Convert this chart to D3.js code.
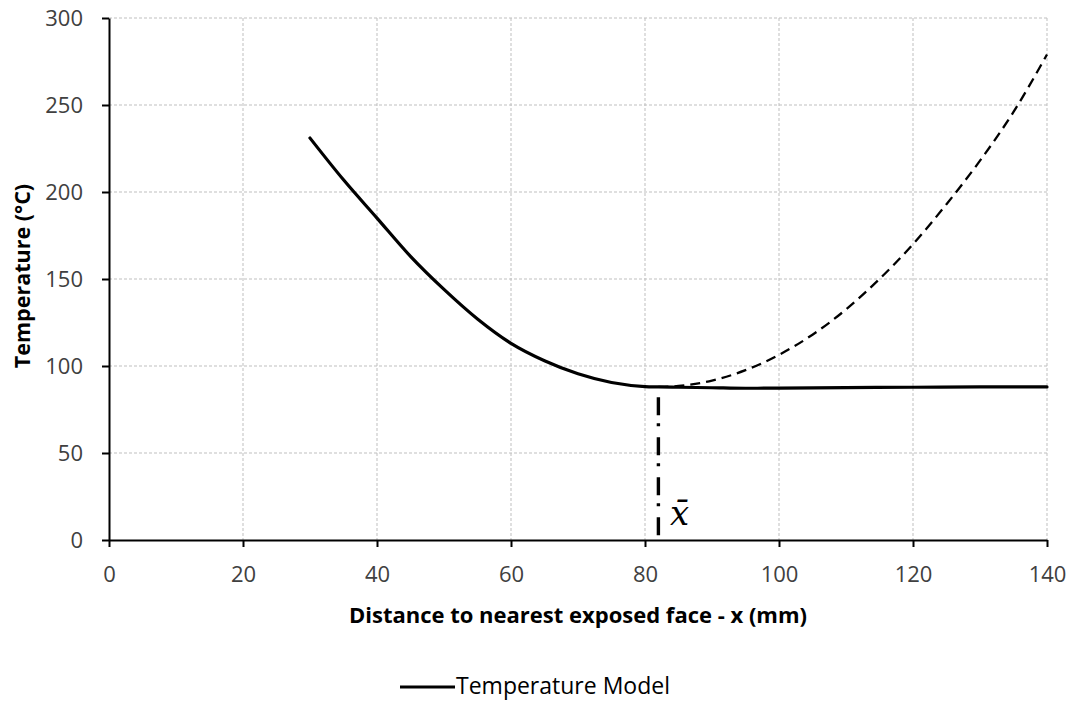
<!DOCTYPE html>
<html><head><meta charset="utf-8">
<script src="https://cdn.jsdelivr.net/npm/d3@7/dist/d3.min.js"></script>
<style>body{margin:0;background:#fff}svg{display:block}text{font-family:"Open Sans","Liberation Sans",sans-serif}</style>
</head><body>
<svg id="c" width="1070" height="702"></svg>
<script>
const solidX = [30, 35, 40, 45, 50, 55, 60, 65, 70, 75, 80, 82, 85, 90, 95, 100, 110, 120, 130, 140];
const solidY = [231, 207, 185, 163, 144, 127, 113, 103, 95.5, 90.5, 88.2, 88, 87.8, 87.5, 87.2, 87.3, 87.6, 87.8, 88, 88];
const dashX = [82, 85, 90, 95, 100, 105, 110, 115, 120, 125, 130, 135, 140];
const dashY = [88, 88.5, 91.6, 97.6, 106.4, 118, 132.5, 150, 170, 193, 218, 246, 279];
const xbarX = 82;
const xbarTop = 82;
const xTicks = [0, 20, 40, 60, 80, 100, 120, 140];
const yTicks = [0, 50, 100, 150, 200, 250, 300];

const svg = d3.select("#c");
const L = 109, R = 1047, T = 18, B = 540;
const x = d3.scaleLinear().domain([0, 140]).range([L, R]);
const y = d3.scaleLinear().domain([0, 300]).range([B, T]);

// grid
const g = svg.append("g");
g.selectAll(".vg").data(xTicks.filter(d => d > 0)).enter().append("line")
  .attr("x1", d => x(d)).attr("x2", d => x(d)).attr("y1", T).attr("y2", B)
  .attr("stroke", "#bfbfbf").attr("stroke-width", 1).attr("stroke-dasharray", "3,2");
g.selectAll(".hg").data(yTicks.filter(d => d > 0)).enter().append("line")
  .attr("x1", L).attr("x2", R).attr("y1", d => y(d)).attr("y2", d => y(d))
  .attr("stroke", "#bfbfbf").attr("stroke-width", 1).attr("stroke-dasharray", "3,2");

// axes
const xa = svg.append("g").attr("transform", `translate(0,${B})`)
  .call(d3.axisBottom(x).tickValues(xTicks).tickSize(7).tickPadding(15).tickSizeOuter(0));
const ya = svg.append("g").attr("transform", `translate(${L},0)`)
  .call(d3.axisLeft(y).tickValues(yTicks).tickSize(7).tickPadding(19).tickSizeOuter(0));
[xa, ya].forEach(a => {
  a.select(".domain").attr("stroke", "#000").attr("stroke-width", 2);
  a.selectAll(".tick line").attr("stroke", "#000").attr("stroke-width", 2);
  a.selectAll(".tick text").attr("fill", "#404040").style("font-size", "22px")
    .style("font-family", '"Open Sans","Liberation Sans",sans-serif');
});
xa.selectAll(".tick text").attr("dy", "0.9em");

// dashed curve
const line = d3.line().x(d => x(d[0])).y(d => y(d[1])).curve(d3.curveMonotoneX);
svg.append("path").datum(dashX.map((d, i) => [d, dashY[i]]))
  .attr("d", line).attr("fill", "none").attr("stroke", "#000").attr("stroke-width", 2.3)
  .attr("stroke-dasharray", "10,6");
// solid curve
svg.append("path").datum(solidX.map((d, i) => [d, solidY[i]]))
  .attr("d", line).attr("fill", "none").attr("stroke", "#000").attr("stroke-width", 3.2)
  .attr("stroke-linecap", "round");

// x-bar dash-dot line
svg.append("line").attr("x1", x(xbarX)).attr("x2", x(xbarX)).attr("y1", y(xbarTop)).attr("y2", B)
  .attr("stroke", "#000").attr("stroke-width", 3.4).attr("stroke-dasharray", "18,8,3,11");
svg.append("text").attr("x", 670).attr("y", 525)
  .style("font-family", '"DejaVu Serif","Liberation Serif",serif').style("font-style", "italic")
  .style("font-size", "34px").attr("fill", "#000").text("x\u0304");

// axis titles
svg.append("text").attr("x", (L + R) / 2).attr("y", 623).attr("text-anchor", "middle")
  .style("font-size", "22px").style("font-weight", "bold").attr("fill", "#000")
  .text("Distance to nearest exposed face - x (mm)");
svg.append("text").attr("transform", `translate(30,276) rotate(-90)`).attr("text-anchor", "middle")
  .style("font-size", "21.5px").style("font-weight", "bold").attr("fill", "#000")
  .text("Temperature (°C)");

// legend
svg.append("line").attr("x1", 400).attr("x2", 455).attr("y1", 687).attr("y2", 687)
  .attr("stroke", "#000").attr("stroke-width", 3.2);
svg.append("text").attr("x", 456).attr("y", 694).style("font-size", "23px").attr("fill", "#000")
  .text("Temperature Model");
</script>
</body></html>
